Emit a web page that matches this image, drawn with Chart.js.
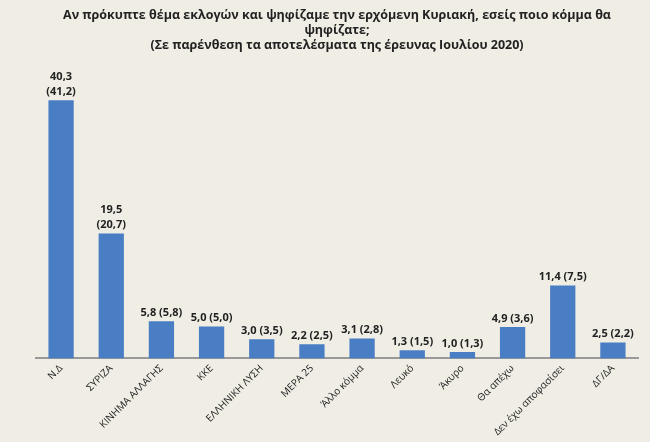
<!DOCTYPE html>
<html><head><meta charset="utf-8">
<script src="https://cdn.jsdelivr.net/npm/chart.js@4/dist/chart.umd.min.js"></script>
<style>
body{margin:0;background:#efede4;}
#wrap{width:650px;height:442px;position:relative;}
</style></head>
<body><div id="wrap"><canvas id="myChart" width="650" height="442"></canvas></div>
<script>
var categories = ['Ν.Δ','ΣΥΡΙΖΑ','ΚΙΝΗΜΑ ΑΛΛΑΓΗΣ','ΚΚΕ','ΕΛΛΗΝΙΚΗ ΛΥΣΗ','ΜΕΡΑ 25','Άλλο κόμμα','Λευκό','Άκυρο','Θα απέχω','Δεν έχω αποφασίσει','ΔΓ/ΔΑ'];
var values = [40.3,19.5,5.8,5.0,3.0,2.2,3.1,1.3,1.0,4.9,11.4,2.5];
var previous = [41.2,20.7,5.8,5.0,3.5,2.5,2.8,1.5,1.3,3.6,7.5,2.2];

function fmt(v){ return v.toFixed(1).replace('.', ','); }

var valueLabels = {
  id: 'valueLabels',
  afterDatasetsDraw: function(chart){
    var ctx = chart.ctx;
    var meta = chart.getDatasetMeta(0);
    ctx.save();
    ctx.fillStyle = '#222';
    ctx.font = 'bold 11px "Open Sans", sans-serif';
    ctx.textAlign = 'center';
    ctx.textBaseline = 'bottom';
    meta.data.forEach(function(bar, i){
      if (values[i] > 15) {
        ctx.fillText(fmt(values[i]), bar.x, bar.y - 18);
        ctx.fillText('(' + fmt(previous[i]) + ')', bar.x, bar.y - 3);
      } else {
        ctx.fillText(fmt(values[i]) + ' (' + fmt(previous[i]) + ')', bar.x, bar.y - 3);
      }
    });
    ctx.restore();
  }
};

new Chart(document.getElementById('myChart'), {
  type: 'bar',
  data: { labels: categories, datasets: [{ data: values, backgroundColor: '#4a7ec4', barPercentage: 0.72, categoryPercentage: 0.7 }] },
  options: {
    responsive: false,
    animation: false,
    layout: { padding: { left: 36, right: 12, top: 0, bottom: 0 } },
    plugins: {
      legend: { display: false },
      tooltip: { enabled: false },
      title: {
        display: true,
        text: ['Αν πρόκυπτε θέμα εκλογών και ψηφίζαμε την ερχόμενη Κυριακή, εσείς ποιο κόμμα θα', 'ψηφίζατε;', '(Σε παρένθεση τα αποτελέσματα της έρευνας Ιουλίου 2020)'],
        color: '#222',
        font: { family: '"Open Sans", sans-serif', size: 12.5, weight: 'bold' },
        padding: { top: 8, bottom: 14 },
        lineHeight: 1.6
      }
    },
    scales: {
      y: { display: false, min: 0, max: 45.5 },
      x: {
        grid: { display: false, drawTicks: false },
        border: { color: '#999', width: 2 },
        ticks: { color: '#222', maxRotation: 45, minRotation: 45, padding: 4, font: { family: '"Open Sans", sans-serif', size: 10 } }
      }
    }
  },
  plugins: [valueLabels]
});
</script></body></html>
